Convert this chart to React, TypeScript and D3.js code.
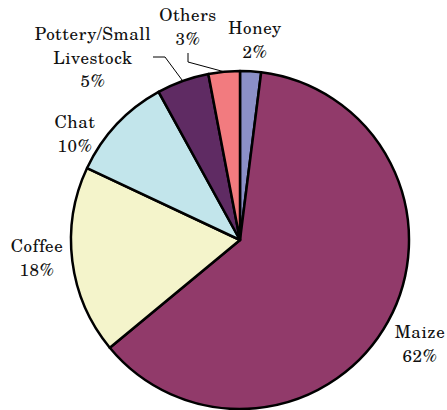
import React from "react";
import * as d3 from "d3";

const categories = ["Honey", "Maize", "Coffee", "Chat", "Pottery/Small Livestock", "Others"];
const values = [2, 62, 18, 10, 5, 3];
const colors = ["#8b8fc8", "#913a6a", "#f4f4cb", "#c2e5eb", "#5f2b63", "#f27b7f"];
const labelLines = [["Honey", "2%"], ["Maize", "62%"], ["Coffee", "18%"], ["Chat", "10%"], ["Pottery/Small", "Livestock", "5%"], ["Others", "3%"]];
// first-baseline anchor of each label
const labelPos: [number, number][] = [[255, 34], [420, 338], [37, 252], [75, 128], [93, 40], [188, 21]];
// leader elbows (null = no leader)
const leaderPts: ([number, number][] | null)[] = [null, null, null, null, [[153, 57], [165, 57]], [[188, 53], [188, 62]]];

const W = 447, H = 410;
const cx = 240, cy = 240, R = 169;

export default function App() {
  const pie = d3.pie<number>().sort(null).value((d) => d).startAngle(0).endAngle(2 * Math.PI);
  const arcs = pie(values);
  const arc = d3.arc<d3.PieArcDatum<number>>().innerRadius(0).outerRadius(R);
  const font = "'TeX Gyre Schola', 'Century Schoolbook', 'DejaVu Serif', serif";
  return (
    <svg width={W} height={H} style={{ position: "absolute", left: 0, top: 0 }}>
      <g transform={`translate(${cx},${cy})`}>
        {arcs.map((a, i) => (
          <path key={i} d={arc(a) || ""} fill={colors[i]} stroke="#000" strokeWidth={2.5} strokeLinejoin="round" />
        ))}
      </g>
      {arcs.map((a, i) => {
        const pts = leaderPts[i];
        if (!pts) return null;
        const mid = (a.startAngle + a.endAngle) / 2;
        const ex = cx + Math.sin(mid) * R;
        const ey = cy - Math.cos(mid) * R;
        const all = [...pts, [ex, ey] as [number, number]];
        return <path key={"l" + i} d={d3.line()(all) || ""} fill="none" stroke="#000" strokeWidth={1} />;
      })}
      {labelLines.map((lines, i) => (
        <text key={"t" + i} x={labelPos[i][0]} y={labelPos[i][1]} textAnchor="middle" style={{ fontFamily: font, fontSize: 17, letterSpacing: "0.6px" }} fill="#111">
          {lines.map((s, j) => (
            <tspan key={j} x={labelPos[i][0]} dy={j === 0 ? 0 : 23.5}>{s}</tspan>
          ))}
        </text>
      ))}
    </svg>
  );
}
